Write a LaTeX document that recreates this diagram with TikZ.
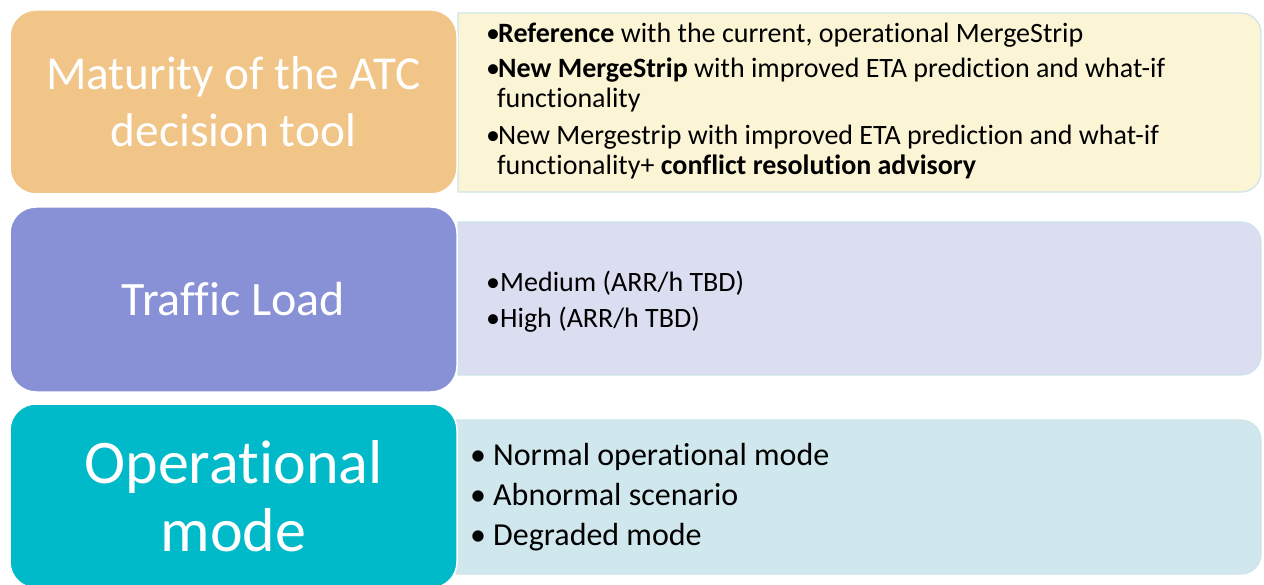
\documentclass[tikz,border=0pt]{standalone}
\usepackage{fontspec}
\setmainfont{Carlito}[Ligatures=NoCommon]
\definecolor{orangeL}{RGB}{241,197,135}
\definecolor{purpleL}{RGB}{137,145,214}
\definecolor{tealL}{RGB}{0,186,201}
\definecolor{yelR}{RGB}{251,245,214}
\definecolor{lavR}{RGB}{219,221,241}
\definecolor{bluR}{RGB}{208,232,237}
\definecolor{edgeR}{RGB}{205,228,232}
\newcommand{\tIx}{t\kern0pt i}
\tikzset{
  lbox/.style={draw=white, line width=1.5pt, rounded corners=26pt, text=white,
    align=center, inner sep=0pt, minimum width=447pt},
  rbox/.style={draw=edgeR, line width=1.2pt},
  txt/.style={anchor=base west, inner sep=0pt, text=black},
  sm/.style={txt, font=\fontsize{28}{32}\selectfont},
  md/.style={txt, font=\fontsize{32}{38}\selectfont}
}
\begin{document}
\begin{tikzpicture}[x=1pt,y=-1pt]
\useasboundingbox (0,0) rectangle (1264,585);
% right-hand boxes (square left corners, rounded right corners)
\fill[rbox, fill=yelR] (458,13) [rounded corners=20pt] -- (1261,13) -- (1261,192) [sharp corners] -- (458,192) -- cycle;
\fill[rbox, fill=lavR] (458,222) [rounded corners=20pt] -- (1261,222) -- (1261,375) [sharp corners] -- (458,375) -- cycle;
\fill[rbox, fill=bluR] (456,420) [rounded corners=20pt] -- (1261,420) -- (1261,574) [sharp corners] -- (456,574) -- cycle;
% left-hand boxes
\node[lbox, fill=orangeL, minimum height=184pt, font=\fontsize{47.3}{55}\selectfont] (mat) at (233.5,102) {\raisebox{2pt}{Maturity of the ATC}\\decision tool};
\node[lbox, fill=purpleL, minimum height=185pt, font=\fontsize{48}{55}\selectfont] (traf) at (233.5,299.5) {Traffic Load};
\node[lbox, fill=tealL, minimum height=184pt, font=\fontsize{62}{68}\selectfont] (opm) at (233.5,496) {Opera\tIx{}onal\\mode};
% texts of box 1
\node[sm] (r1a) at (486,43) {\makebox[12pt][l]{•}\textbf{Reference} with the current, opera\tIx{}onal MergeStrip};
\node[sm] (r1b) at (486,78) {\makebox[12pt][l]{•}\textbf{New MergeStrip} with improved ETA predic\tIx{}on and what-if};
\node[sm] (r1c) at (497,108) {func\tIx{}onality};
\node[sm] (r1d) at (486,145) {\makebox[12pt][l]{•}New Mergestrip with improved ETA predic\tIx{}on and what-if};
\node[sm] (r1e) at (497,175) {func\tIx{}onality+ \textbf{conflict resolu\tIx{}on advisory}};
% texts of box 2
\node[sm] (r2a) at (486,292) {\makebox[14pt][l]{•}Medium (ARR/h TBD)};
\node[sm] (r2b) at (486,327) {\makebox[14pt][l]{•}High (ARR/h TBD)};
% texts of box 3
\node[md] (r3a) at (470,465) {\makebox[23pt][l]{•}Normal opera\tIx{}onal mode};
\node[md] (r3b) at (470,505) {\makebox[23pt][l]{•}Abnormal scenario};
\node[md] (r3c) at (470,545) {\makebox[23pt][l]{•}Degraded mode};
\end{tikzpicture}
\end{document}
